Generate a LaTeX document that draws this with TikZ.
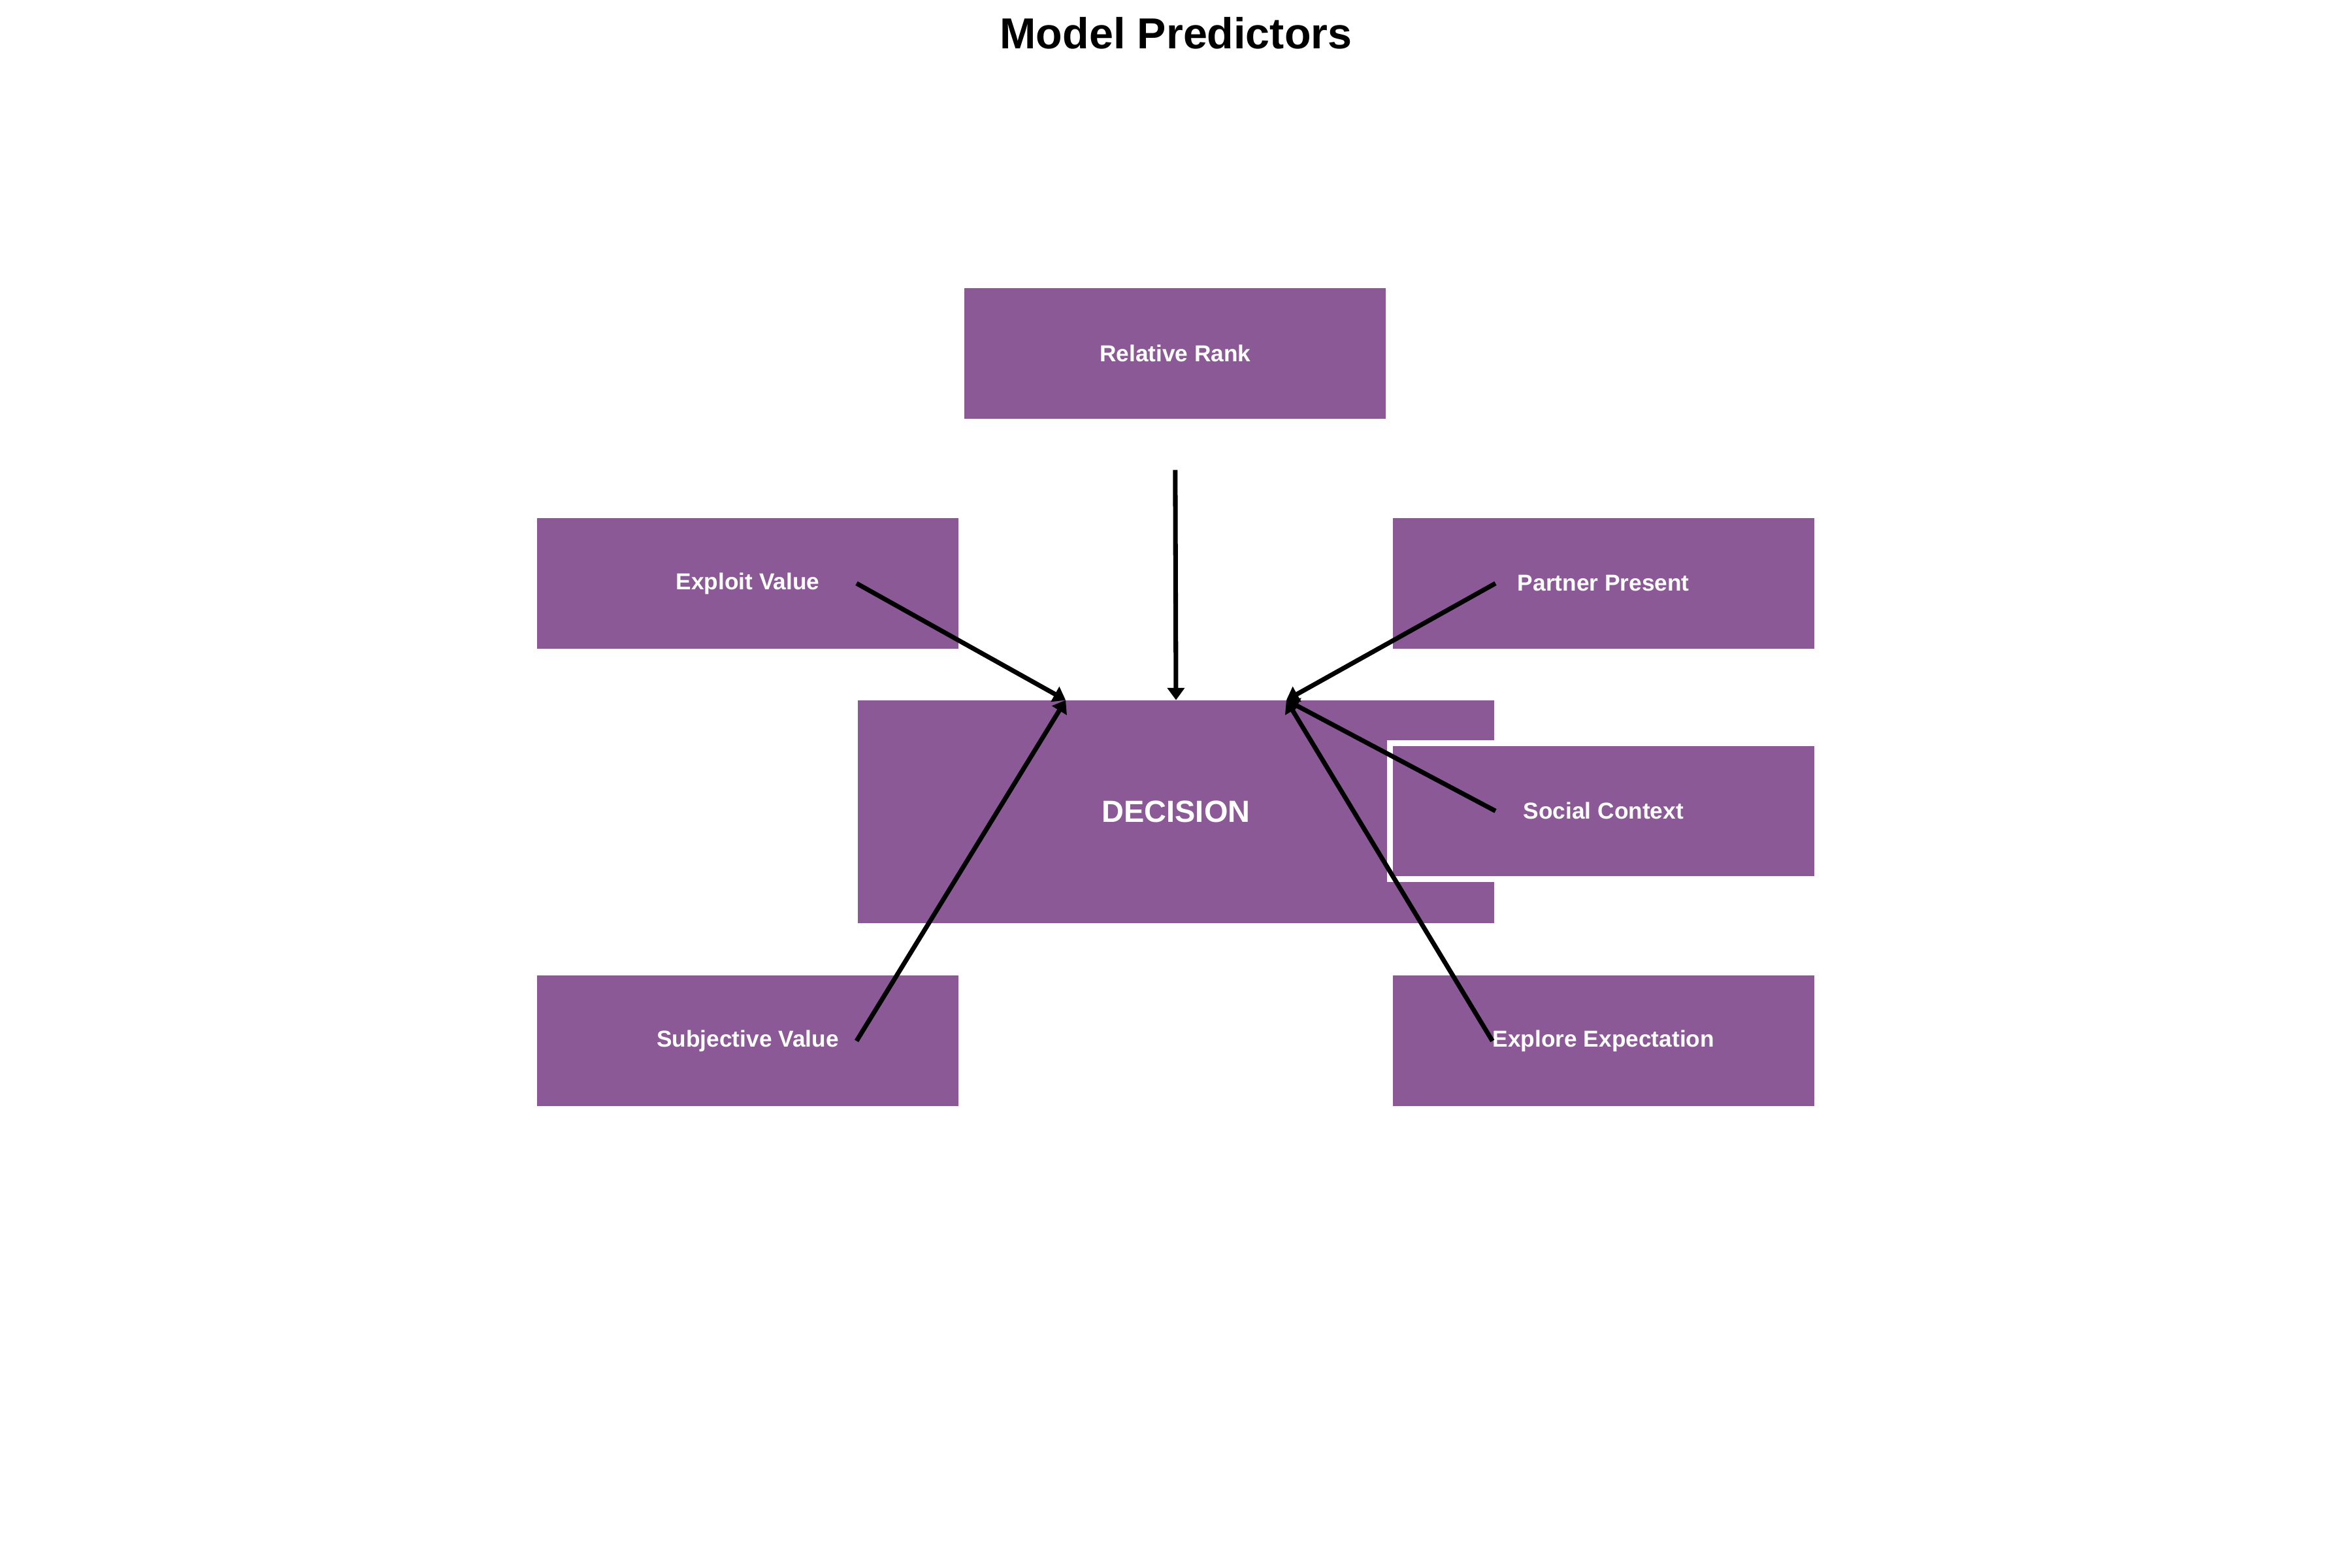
\documentclass[tikz,border=0pt]{standalone}
\usepackage{fontspec}
\setmainfont{Liberation Sans}
\usetikzlibrary{arrows.meta, positioning, calc}
\definecolor{BoxPurple}{HTML}{8B5A96}

\begin{document}
\begin{tikzpicture}[
    >=Triangle, font=\bfseries,
    box/.style={fill=BoxPurple, text=white, align=center, inner sep=0pt,
                minimum width=5.46cm, minimum height=1.69cm,
                font=\fontsize{8.5}{10}\selectfont\bfseries},
    dec/.style={box, minimum width=8.24cm, minimum height=2.88cm,
                font=\fontsize{11.3}{13}\selectfont\bfseries},
    cut/.style={draw=white, line width=2.15pt,
                minimum width=5.46cm+2.15pt, minimum height=1.69cm+2.15pt},
    ttl/.style={font=\fontsize{16}{19}\selectfont\bfseries},
    a/.style={-{Triangle[length=4.5pt, width=6.2pt]}, line width=1.7pt},
  ]
    \useasboundingbox (0,0) rectangle (30.48,20.32);

    % =================== title ===================
    \node[ttl] (title) at (15.24,19.89) {Model Predictors};

    % =================== predictors ===================
    \node[box] (rank)    at (15.23,15.74) {Relative Rank};
    \node[box] (exploit) at (9.69,12.76)  {Exploit Value};
    \node[box] (partner) at (20.78,12.76) {Partner Present};
    \node[dec] (decision) at (15.24,9.80) {DECISION};
    \node[box, cut] (social) at (20.78,9.81) {Social Context};
    \node[box] (subj)    at (9.69,6.83)   {Subjective Value};
    \node[box] (explore) at (20.78,6.83)  {Explore Expectation};

    % =================== connectors ===================
    \coordinate (inL) at ($(decision.north)+(-1.43,0)$);
    \coordinate (inM) at (decision.north);
    \coordinate (inR) at ($(decision.north)+(1.43,0)$);
    \coordinate (rankout)    at ($(rank.center)+(0,-1.51)$);
    \coordinate (exploitout) at ($(exploit.center)+(1.41,0)$);
    \coordinate (subjout)    at ($(subj.center)+(1.41,0)$);
    \coordinate (partnerout) at ($(partner.center)+(-1.40,0)$);
    \coordinate (socialout)  at ($(social.center)+(-1.40,0)$);
    \coordinate (exploreout) at ($(explore.center)+(-1.44,0)$);
    \draw[a] (rankout) -- (inM);
    \draw[a] (exploitout) -- (inL);
    \draw[a] (subjout) -- (inL);
    \draw[a] (partnerout) -- (inR);
    \draw[a] (socialout) -- (inR);
    \draw[a] (exploreout) -- (inR);
  \end{tikzpicture}
\end{document}
